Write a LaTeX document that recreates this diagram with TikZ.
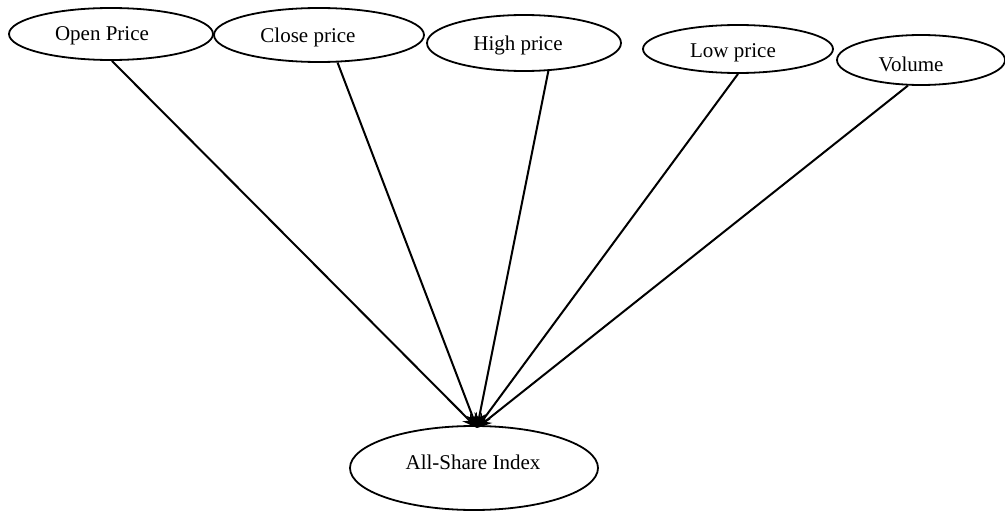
\documentclass[tikz,border=0pt]{standalone}
\usepackage{fontspec}
\setmainfont{Liberation Serif}
\usetikzlibrary{shapes.geometric,arrows.meta}
\begin{document}
\begin{tikzpicture}[x=1pt,y=-1pt,
  oval/.style={draw=black, ellipse, line width=1.8pt, inner sep=0pt},
  txt/.style={inner sep=0pt, font=\fontsize{21}{25}\selectfont},
  link/.style={draw=black, line width=2pt, -{Stealth[length=15pt,width=11pt]}}]
\useasboundingbox (0,0) rectangle (1005,511);
\node[oval, minimum width=204pt, minimum height=52pt] (open) at (111,34) {};
\node[oval, minimum width=210pt, minimum height=54pt] (close) at (319,35) {};
\node[oval, minimum width=194pt, minimum height=56pt] (high) at (524,43) {};
\node[oval, minimum width=190pt, minimum height=48pt] (low) at (738,49) {};
\node[oval, minimum width=168pt, minimum height=50pt] (vol) at (921,60) {};
\node[oval, minimum width=248pt, minimum height=84pt] (all) at (474,468) {};
\node[txt] (topen) at ([xshift=-9pt,yshift=-2pt]open.center) {Open Price};
\node[txt] (tclose) at ([xshift=-11pt,yshift=-2pt]close.center) {Close price};
\node[txt] (thigh) at ([xshift=-6pt,yshift=-2pt]high.center) {High price};
\node[txt] (tlow) at ([xshift=-5pt,yshift=-4pt]low.center) {Low price};
\node[txt] (tvol) at ([xshift=-10pt,yshift=-4pt]vol.center) {Volume};
\node[txt] (tall) at ([xshift=-1pt,yshift=6pt]all.center) {All-Share Index};
\coordinate (tip) at (477,428);
\draw[link] (open.-88) -- (tip);
\draw[link] (close.-56) -- (tip);
\draw[link] (high.-49) -- (tip);
\draw[link] (low.-90) -- (tip);
\draw[link] (vol.-117) -- (tip);
\end{tikzpicture}
\end{document}
